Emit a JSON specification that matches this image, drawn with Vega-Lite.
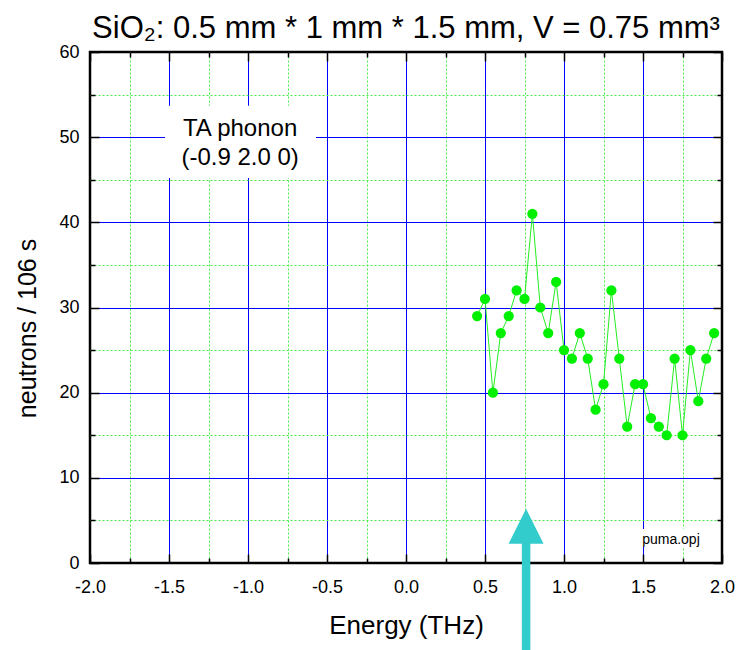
{
  "$schema": "https://vega.github.io/schema/vega-lite/v6.json",
  "width": 632,
  "height": 511,
  "autosize": {"type": "none"},
  "padding": {"left": 90, "top": 52, "right": 27, "bottom": 87},
  "background": "white",
  "config": {
    "font": "Liberation Sans",
    "view": {"stroke": "black", "strokeWidth": 2.5},
    "axis": {"labelFont": "Liberation Sans", "titleFont": "Liberation Sans"}
  },
  "title": {
    "text": "SiO₂: 0.5 mm * 1 mm * 1.5 mm,  V = 0.75 mm³",
    "fontSize": 31,
    "fontWeight": "normal",
    "font": "Liberation Sans",
    "color": "black",
    "anchor": "middle",
    "frame": "group",
    "baseline": "alphabetic",
    "offset": -26
  },
  "datasets": {
    "counts": [
      {"energy": 0.45, "n": 29}, {"energy": 0.50, "n": 31}, {"energy": 0.55, "n": 20},
      {"energy": 0.60, "n": 27}, {"energy": 0.65, "n": 29}, {"energy": 0.70, "n": 32},
      {"energy": 0.75, "n": 31}, {"energy": 0.80, "n": 41}, {"energy": 0.85, "n": 30},
      {"energy": 0.90, "n": 27}, {"energy": 0.95, "n": 33}, {"energy": 1.00, "n": 25},
      {"energy": 1.05, "n": 24}, {"energy": 1.10, "n": 27}, {"energy": 1.15, "n": 24},
      {"energy": 1.20, "n": 18}, {"energy": 1.25, "n": 21}, {"energy": 1.30, "n": 32},
      {"energy": 1.35, "n": 24}, {"energy": 1.40, "n": 16}, {"energy": 1.45, "n": 21},
      {"energy": 1.50, "n": 21}, {"energy": 1.55, "n": 17}, {"energy": 1.60, "n": 16},
      {"energy": 1.65, "n": 15}, {"energy": 1.70, "n": 24}, {"energy": 1.75, "n": 15},
      {"energy": 1.80, "n": 25}, {"energy": 1.85, "n": 19}, {"energy": 1.90, "n": 24},
      {"energy": 1.95, "n": 27}
    ],
    "boxes": [
      {"x": -1.525, "x2": -0.57, "y": 45.2, "y2": 53.7},
      {"x": 1.46, "x2": 1.9, "y": 1.9, "y2": 4.0}
    ],
    "labels": [
      {"x": -1.05, "y": 51.0, "t": "TA phonon"},
      {"x": -1.05, "y": 47.6, "t": "(-0.9 2.0 0)"}
    ],
    "file": [{"x": 1.677, "y": 2.73, "t": "puma.opj"}],
    "arrowShaft": [{"x": 0.76, "y": -12, "y2": 2.5}],
    "arrowHead": [{"x": 0.76, "y": 4.31}]
  },
  "layer": [
    {
      "data": {"name": "boxes"},
      "mark": {"type": "rect", "fill": "white", "stroke": null},
      "encoding": {
        "x": {
          "field": "x", "type": "quantitative",
          "scale": {"domain": [-2, 2], "nice": false, "zero": false},
          "axis": {
            "orient": "bottom",
            "title": "Energy (THz)",
            "titleFontSize": 26,
            "titleFontWeight": "normal",
            "titleColor": "black",
            "titlePadding": 12,
            "values": [-2, -1.75, -1.5, -1.25, -1, -0.75, -0.5, -0.25, 0, 0.25, 0.5, 0.75, 1, 1.25, 1.5, 1.75, 2],
            "labelExpr": "abs(datum.value*2 - round(datum.value*2)) < 0.001 ? replace(format(datum.value, '.1f'), '−', '-') : ''",
            "labelFontSize": 18,
            "labelColor": "black",
            "labelFlush": false,
            "labelOverlap": false,
            "labelBound": false,
            "labelPadding": 24,
            "domain": false,
            "ticks": true,
            "tickColor": "black",
            "tickWidth": 1.5,
            "tickSize": {"condition": {"test": "abs(datum.value*2 - round(datum.value*2)) < 0.001", "value": -9}, "value": -5},
            "grid": true,
            "gridColor": {"condition": {"test": "abs(datum.value*2 - round(datum.value*2)) < 0.001", "value": "#0000FF"}, "value": "#44EE44"},
            "gridDash": {"condition": {"test": "abs(datum.value*2 - round(datum.value*2)) < 0.001", "value": []}, "value": [2, 2]},
            "gridOpacity": {"condition": {"test": "abs(datum.value) > 1.99", "value": 0}, "value": 1},
            "gridWidth": 1
          }
        },
        "x2": {"field": "x2"},
        "y": {
          "field": "y", "type": "quantitative",
          "scale": {"domain": [0, 60], "nice": false, "zero": true},
          "axis": {
            "orient": "left",
            "title": "neutrons / 106 s",
            "titleFontSize": 25,
            "titleFontWeight": "normal",
            "titleColor": "black",
            "titlePadding": 18,
            "titleY": 276,
            "values": [0, 5, 10, 15, 20, 25, 30, 35, 40, 45, 50, 55, 60],
            "labelExpr": "datum.value % 10 === 0 ? datum.label : ''",
            "labelFontSize": 18,
            "labelColor": "black",
            "labelFlush": false,
            "labelOverlap": false,
            "labelBound": false,
            "labelPadding": 20,
            "domain": false,
            "ticks": true,
            "tickColor": "black",
            "tickWidth": 1.5,
            "tickSize": {"condition": {"test": "datum.value % 10 === 0", "value": -9}, "value": -5},
            "grid": true,
            "gridColor": {"condition": {"test": "datum.value % 10 === 0", "value": "#0000FF"}, "value": "#44EE44"},
            "gridDash": {"condition": {"test": "datum.value % 10 === 0", "value": []}, "value": [2, 2]},
            "gridOpacity": {"condition": {"test": "datum.value <= 0 || datum.value >= 60", "value": 0}, "value": 1},
            "gridWidth": 1
          }
        },
        "y2": {"field": "y2"}
      }
    },
    {
      "data": {"name": "labels"},
      "mark": {"type": "text", "fontSize": 24, "font": "Liberation Sans", "color": "black", "align": "center", "baseline": "middle"},
      "encoding": {
        "x": {
          "field": "x", "type": "quantitative",
          "axis": {
            "orient": "top", "title": null, "labels": false, "grid": false, "domain": false,
            "values": [-2, -1.75, -1.5, -1.25, -1, -0.75, -0.5, -0.25, 0, 0.25, 0.5, 0.75, 1, 1.25, 1.5, 1.75, 2],
            "tickColor": "black", "tickWidth": 1.5,
            "tickSize": {"condition": {"test": "abs(datum.value*2 - round(datum.value*2)) < 0.001", "value": -9}, "value": -5}
          }
        },
        "y": {
          "field": "y", "type": "quantitative",
          "axis": {
            "orient": "right", "title": null, "labels": false, "grid": false, "domain": false,
            "values": [0, 5, 10, 15, 20, 25, 30, 35, 40, 45, 50, 55, 60],
            "tickColor": "black", "tickWidth": 1.5,
            "tickSize": {"condition": {"test": "datum.value % 10 === 0", "value": -9}, "value": -5}
          }
        },
        "text": {"field": "t"}
      }
    },
    {
      "data": {"name": "file"},
      "mark": {"type": "text", "fontSize": 14, "font": "Liberation Sans", "color": "black", "align": "center", "baseline": "middle"},
      "encoding": {
        "x": {"field": "x", "type": "quantitative", "axis": null},
        "y": {"field": "y", "type": "quantitative", "axis": null},
        "text": {"field": "t"}
      }
    },
    {
      "data": {"name": "counts"},
      "mark": {"type": "line", "color": "#22EE22", "strokeWidth": 1},
      "encoding": {
        "x": {"field": "energy", "type": "quantitative", "axis": null},
        "y": {"field": "n", "type": "quantitative", "axis": null}
      }
    },
    {
      "data": {"name": "counts"},
      "mark": {"type": "point", "shape": "circle", "filled": true, "color": "#00F000", "opacity": 1, "size": 105},
      "encoding": {
        "x": {"field": "energy", "type": "quantitative", "axis": null},
        "y": {"field": "n", "type": "quantitative", "axis": null}
      }
    },
    {
      "data": {"name": "arrowShaft"},
      "mark": {"type": "rule", "color": "#33CCCC", "strokeWidth": 8.5, "clip": false},
      "encoding": {
        "x": {"field": "x", "type": "quantitative", "axis": null},
        "y": {"field": "y", "type": "quantitative", "axis": null},
        "y2": {"field": "y2"}
      }
    },
    {
      "data": {"name": "arrowHead"},
      "mark": {"type": "point", "shape": "M0,-1L1,1L-1,1Z", "filled": true, "color": "#33CCCC", "opacity": 1, "size": 1225, "clip": false},
      "encoding": {
        "x": {"field": "x", "type": "quantitative", "axis": null},
        "y": {"field": "y", "type": "quantitative", "axis": null}
      }
    }
  ],
  "resolve": {"axis": {"x": "independent", "y": "independent"}}
}
